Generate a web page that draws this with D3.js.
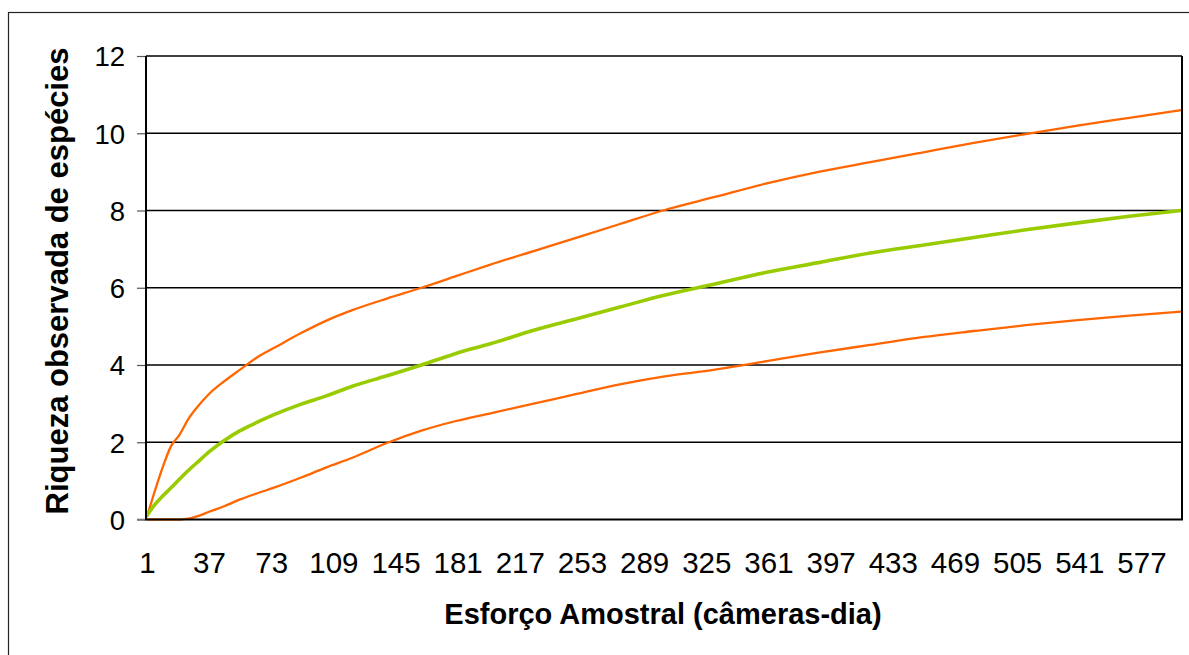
<!DOCTYPE html>
<html>
<head>
<meta charset="utf-8">
<script src="https://cdn.jsdelivr.net/npm/d3@7/dist/d3.min.js"></script>
<style>
  html, body { margin: 0; padding: 0; background: #fff; }
  svg { display: block; }
  text { font-family: "Liberation Sans", Arial, sans-serif; fill: #000; }
</style>
</head>
<body>
<svg id="chart" width="1189" height="655"></svg>
<script>
// Sampling effort (camera-days) at which the curves were read
const days = [1, 5, 10, 15, 20, 25, 30, 37, 45, 55, 65, 75, 90, 105, 120, 140, 160, 180,
  200, 225, 250, 275, 300, 330, 360, 390, 420, 450, 480, 510, 540, 570, 600];

// Observed species richness (mean) and its upper / lower confidence bounds
const mean = [0.1, 0.35, 0.6, 0.82, 1.05, 1.27, 1.47, 1.75, 2.02, 2.3, 2.52, 2.72, 2.98, 3.2,
  3.45, 3.72, 4.0, 4.3, 4.55, 4.9, 5.2, 5.5, 5.8, 6.1, 6.4, 6.65, 6.9, 7.1, 7.3, 7.5, 7.68, 7.85, 8.0];
const upper = [0.07, 0.65, 1.33, 1.9, 2.2, 2.6, 2.9, 3.25, 3.55, 3.88, 4.2, 4.45, 4.82, 5.15,
  5.42, 5.72, 6.0, 6.3, 6.6, 6.95, 7.3, 7.65, 8.0, 8.35, 8.7, 9.0, 9.25, 9.5, 9.75, 9.98, 10.2, 10.4, 10.6];
const lower = [0, 0, 0, 0, 0, 0.02, 0.08, 0.2, 0.33, 0.52, 0.68, 0.83, 1.08, 1.35,
  1.6, 1.98, 2.3, 2.55, 2.75, 3.0, 3.25, 3.5, 3.7, 3.88, 4.1, 4.32, 4.52, 4.72, 4.88, 5.03, 5.16, 5.28, 5.38];

// Category labels on the effort axis and value ticks on the richness axis
const xTickLabels = [1, 37, 73, 109, 145, 181, 217, 253, 289, 325, 361, 397, 433, 469, 505, 541, 577];
const yTicks = [0, 2, 4, 6, 8, 10, 12];
const nDays = 600;

const svg = d3.select("#chart");
const plot = { left: 146, top: 56, right: 1182, bottom: 519.5 };

// Each camera-day occupies one category slot; points sit at slot centres
const x = d3.scaleLinear().domain([0.5, nDays + 0.5]).range([plot.left, plot.right]);
const y = d3.scaleLinear().domain([0, 12]).range([plot.bottom, plot.top]);

// Outer chart frame
svg.append("rect")
  .attr("x", 8.5).attr("y", 12.5)
  .attr("width", 1200).attr("height", 700)
  .attr("fill", "none").attr("stroke", "#222").attr("stroke-width", 1.2);

// Horizontal gridlines
svg.append("g")
  .selectAll("line")
  .data(yTicks.filter(d => d > 0))
  .join("line")
  .attr("x1", plot.left).attr("x2", plot.right)
  .attr("y1", d => y(d)).attr("y2", d => y(d))
  .attr("stroke", "#000").attr("stroke-width", 1.6);

// Value axis with outward ticks
const yAxis = svg.append("g")
  .attr("transform", `translate(${plot.left},0)`)
  .call(d3.axisLeft(y).tickValues(yTicks).tickSize(9).tickPadding(12).tickFormat(d3.format("d")));
yAxis.select(".domain").remove();
yAxis.selectAll(".tick line").attr("stroke", "#555").attr("stroke-width", 1.2);
yAxis.selectAll(".tick text")
  .attr("font-size", 27.5)
  .attr("font-family", "'Liberation Sans', Arial, sans-serif")
  .attr("dy", "0.36em");

// Category axis labels
const xAxis = svg.append("g")
  .attr("transform", `translate(0,${plot.bottom})`)
  .call(d3.axisBottom(x).tickValues(xTickLabels).tickSize(0).tickPadding(33).tickFormat(d3.format("d")));
xAxis.select(".domain").remove();
xAxis.selectAll(".tick text")
  .attr("font-size", 29.5)
  .attr("font-family", "'Liberation Sans', Arial, sans-serif");

// Short stub of the category axis left of the plot
svg.append("line")
  .attr("x1", plot.left - 9).attr("x2", plot.left)
  .attr("y1", plot.bottom).attr("y2", plot.bottom)
  .attr("stroke", "#777").attr("stroke-width", 1.6);

// Series lines
const line = d3.line()
  .x(d => x(d[0]))
  .y(d => y(d[1]))
  .curve(d3.curveMonotoneX);

const series = [
  { values: upper, color: "#FF6600", width: 2.3 },
  { values: lower, color: "#FF6600", width: 2.3 },
  { values: mean, color: "#99CC00", width: 3.6 }
];

svg.append("g")
  .selectAll("path")
  .data(series)
  .join("path")
  .attr("d", s => line(days.map((d, i) => [d, s.values[i]])))
  .attr("fill", "none")
  .attr("stroke", s => s.color)
  .attr("stroke-width", s => s.width)
  .attr("stroke-linejoin", "round");

// Plot area border (left, right, bottom); the top edge is the 12 gridline
svg.append("path")
  .attr("d", `M${plot.left},${plot.top} V${plot.bottom} H${plot.right} V${plot.top}`)
  .attr("fill", "none").attr("stroke", "#000").attr("stroke-width", 2);

// Axis titles
svg.append("text")
  .attr("x", 663).attr("y", 624)
  .attr("text-anchor", "middle")
  .attr("font-size", 29).attr("font-weight", "bold")
  .text("Esforço Amostral (câmeras-dia)");

svg.append("text")
  .attr("transform", "translate(68,281) rotate(-90)")
  .attr("text-anchor", "middle")
  .attr("font-size", 31).attr("font-weight", "bold")
  .text("Riqueza observada de espécies");
</script>
</body>
</html>
